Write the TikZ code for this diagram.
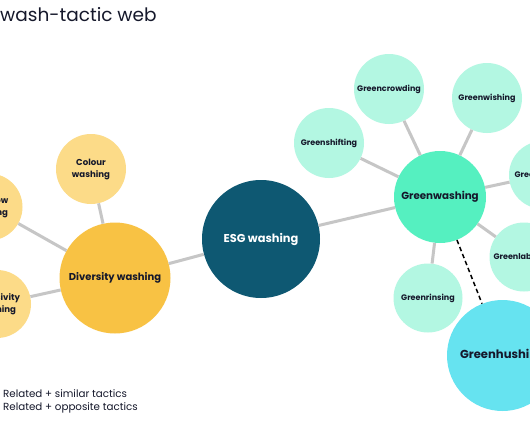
\documentclass[tikz,border=0pt]{standalone}
\usepackage{fontspec}
\setmainfont{Poppins}
\definecolor{textc}{HTML}{15182B}
\definecolor{linec}{HTML}{C6C6C6}
\definecolor{ylight}{HTML}{FCDB88}
\definecolor{ydark}{HTML}{F8C244}
\definecolor{esgc}{HTML}{0E5872}
\definecolor{gmain}{HTML}{55F0C0}
\definecolor{glight}{HTML}{B3F7E2}
\definecolor{ghush}{HTML}{66E3F0}
\tikzset{
  bub/.style={circle, inner sep=0pt, align=center, text=textc, font=\bfseries},
  small/.style={bub, minimum size=70pt, font=\fontsize{8}{10}\selectfont\bfseries},
  ysmall/.style={small, fill=ylight, font=\fontsize{8.6}{12}\selectfont\bfseries},
  gsmall/.style={small, fill=glight},
  big/.style={bub, minimum size=111pt, font=\fontsize{10}{13}\selectfont\bfseries},
  link/.style={draw=linec, line width=3pt},
  opp/.style={draw=black, line width=1.5pt, dash pattern=on 4.5pt off 3pt},
}
\begin{document}
\begin{tikzpicture}[x=1pt,y=-1pt]
\useasboundingbox (0,0) rectangle (530,442);
\clip (0,0) rectangle (530,442);
\fill[white] (0,0) rectangle (530,442);
\node[anchor=base west, font=\fontsize{18.5}{22}\selectfont, text=textc, inner sep=0pt] (title) at (0,21.7) {wash-tactic web};
% yellow cluster
\node[ysmall] (colour) at (91,169) {Colour\\washing};
\node[ysmall, minimum size=67pt] (rainbow) at (-11,207) {Rainbow\\washing};
\node[ysmall, minimum size=68pt] (inclus) at (-3,304) {Inclusivity\\washing};
\node[big, fill=ydark] (divers) at (115,278) {Diversity washing};
% ESG
\node[bub, fill=esgc, text=white, minimum size=118pt, font=\fontsize{11.4}{14}\selectfont\bfseries] (esg) at (261,239) {ESG washing};
% green cluster
\node[bub, fill=gmain, minimum size=92pt, font=\fontsize{10.3}{13}\selectfont\bfseries] (gw) at (440,197) {Greenwashing};
\node[gsmall] (gcrowd) at (389,89) {Greencrowding};
\node[gsmall] (gwish) at (487,98) {Greenwishing};
\node[gsmall] (gshift) at (329,143) {Greenshifting};
\node[gsmall, minimum size=68pt] (glight) at (543,175) {Greenlighting};
\node[gsmall, minimum size=69pt] (glabel) at (524,257) {Greenlabelling};
\node[gsmall, minimum size=69pt] (grinse) at (428,298) {Greenrinsing};
\node[bub, fill=ghush, minimum size=111pt, font=\fontsize{11.6}{15}\selectfont\bfseries] (ghush) at (502.5,355.5) {Greenhushing};
% links
\path[link] (divers) -- (colour);
\path[link] (divers) -- (rainbow);
\path[link] (divers) -- (inclus);
\path[link] (divers) -- (esg);
\path[link] (esg) -- (gw);
\path[link] (gw) -- (gcrowd);
\path[link] (gw) -- (gwish);
\path[link] (gw) -- (gshift);
\path[link] (gw) -- (glight);
\path[link] (gw) -- (glabel);
\path[link] (gw) -- (grinse);
\path[opp] (gw) -- (ghush);
% legend
\node[anchor=base west, inner sep=0pt, font=\fontsize{10.3}{13}\selectfont, text=textc] (leg1) at (3,397) {Related + similar tactics};
\node[anchor=base west, inner sep=0pt, font=\fontsize{10.3}{13}\selectfont, text=textc] (leg2) at (3,410.5) {Related + opposite tactics};
\end{tikzpicture}
\end{document}
